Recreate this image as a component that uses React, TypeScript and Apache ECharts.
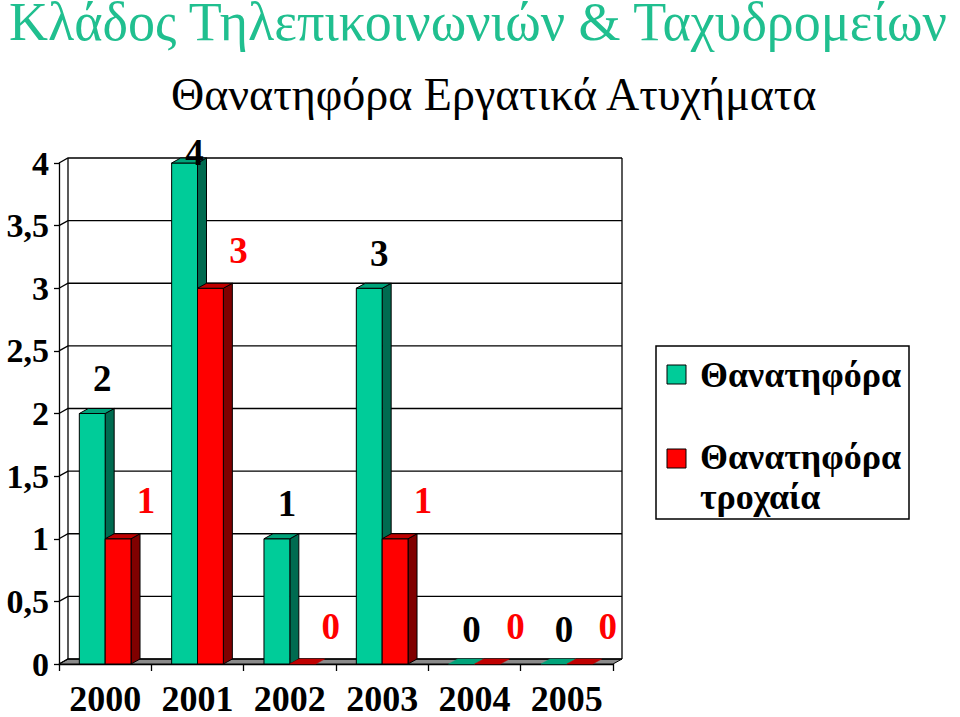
import React, { useEffect, useRef } from 'react';
import * as echarts from 'echarts';

const years = ['2000', '2001', '2002', '2003', '2004', '2005'];
const fatal = [2, 4, 1, 3, 0, 0];
const fatalRoad = [1, 3, 0, 1, 0, 0];
const seriesNames = ['Θανατηφόρα', 'Θανατηφόρα\nτροχαία'];
const yTicks = [0, 0.5, 1, 1.5, 2, 2.5, 3, 3.5, 4];
const mainTitle = 'Κλάδος Τηλεπικοινωνιών & Ταχυδρομείων';
const subTitle = 'Θανατηφόρα Εργατικά Ατυχήματα';

const FONT = 'Liberation Serif';
const DX = 9;
const DY = -5;

const GREEN = { front: '#00CC99', top: '#00A37A', side: '#006B50', label: '#000000' };
const RED = { front: '#FF0000', top: '#C00000', side: '#800000', label: '#FF0000' };

function makeBarRender(colors: any, isLeft: boolean, labelDx: number, labelDy: number) {
  return (params: any, api: any) => {
    const cs = params.coordSys;
    const idx = api.value(0);
    const val = api.value(1);
    const top = api.coord([idx, val]);
    const base = api.coord([idx, 0]);
    const catW = api.size([1, 0])[0];
    const w = catW * 0.28;
    const x0 = isLeft ? top[0] - w : top[0];
    const yT = top[1];
    const yB = base[1];
    const children: any[] = [];
    const stroke = { stroke: '#000', lineWidth: 1 };
    if (yB - yT > 0.5) {
      children.push({
        type: 'polygon',
        shape: { points: [[x0 + w, yT], [x0 + w + DX, yT + DY], [x0 + w + DX, yB + DY], [x0 + w, yB]] },
        style: { fill: colors.side, ...stroke },
      });
      children.push({
        type: 'rect',
        shape: { x: x0, y: yT, width: w, height: yB - yT },
        style: { fill: colors.front, ...stroke },
      });
      children.push({
        type: 'polygon',
        shape: { points: [[x0, yT], [x0 + w, yT], [x0 + w + DX, yT + DY], [x0 + DX, yT + DY]] },
        style: { fill: colors.top, ...stroke },
      });
    } else {
      children.push({
        type: 'polygon',
        shape: { points: [[x0, yT], [x0 + w, yT], [x0 + w + DX, yT + DY], [x0 + DX, yT + DY]] },
        style: { fill: colors.top, stroke: colors.top, lineWidth: 0.5 },
      });
    }
    const ly = Math.max(yT + labelDy, cs.y - 11);
    children.push({
      type: 'text',
      z2: 10,
      style: {
        text: String(val),
        x: x0 + w / 2 + labelDx,
        y: ly,
        align: 'center',
        verticalAlign: 'middle',
        fill: colors.label,
        fontSize: 37,
        fontWeight: 'bold',
        fontFamily: FONT,
      },
    });
    return { type: 'group', children };
  };
}

export default function App() {
  const ref = useRef<HTMLDivElement>(null);

  useEffect(() => {
    if (!ref.current) return;
    const chart = echarts.init(ref.current, null, { renderer: 'svg' });
    const maxTick = yTicks[yTicks.length - 1];

    const option: any = {
      animation: false,
      backgroundColor: '#ffffff',
      title: [
        {
          text: mainTitle,
          left: 4,
          top: -10,
          textStyle: { color: '#20BF8F', fontSize: 54, fontWeight: 'normal', fontFamily: FONT },
        },
        {
          text: subTitle,
          left: 166,
          top: 66,
          textStyle: { color: '#000', fontSize: 46, fontWeight: 'normal', fontFamily: FONT },
        },
      ],
      grid: { left: 59, top: 163, width: 554, height: 502, containLabel: false },
      xAxis: {
        type: 'category',
        data: years,
        axisLine: { show: true, lineStyle: { color: '#000', width: 1.3 } },
        axisTick: { show: true, length: 7, lineStyle: { color: '#000', width: 1.3 } },
        axisLabel: {
          color: '#000',
          fontSize: 36,
          fontWeight: 'bold',
          fontFamily: FONT,
          margin: 17,
          interval: 0,
        },
        splitLine: { show: false },
      },
      yAxis: {
        type: 'value',
        min: 0,
        max: maxTick,
        interval: 0.5,
        axisLine: { show: true, lineStyle: { color: '#000', width: 1.3 } },
        axisTick: { show: true, length: 5, lineStyle: { color: '#000', width: 1.3 } },
        axisLabel: {
          color: '#000',
          fontSize: 34,
          fontWeight: 'bold',
          fontFamily: FONT,
          margin: 10,
          formatter: (v: number) => String(v).replace('.', ','),
        },
        splitLine: { show: false },
      },
      series: [
        {
          type: 'custom',
          name: 'wall',
          silent: true,
          data: yTicks.map((v) => [0, v]),
          encode: { x: 0, y: 1 },
          renderItem: (params: any, api: any) => {
            const cs = params.coordSys;
            const v = api.value(1);
            const y = api.coord([0, v])[1];
            const y0 = api.coord([0, 0])[1];
            const x0 = cs.x;
            const x1 = cs.x + cs.width;
            const children: any[] = [];
            if (v === 0) {
              children.push({
                type: 'polygon',
                shape: { points: [[x0, y], [x1, y], [x1 + DX, y + DY], [x0 + DX, y + DY]] },
                style: { fill: '#8A8A8A', stroke: '#000', lineWidth: 1 },
              });
            }
            children.push({
              type: 'polyline',
              shape: { points: [[x0, y], [x0 + DX, y + DY], [x1 + DX, y + DY]] },
              style: { fill: 'none', stroke: '#000', lineWidth: 1.3 },
            });
            if (v === maxTick) {
              children.push({
                type: 'line',
                shape: { x1: x0 + DX, y1: y + DY, x2: x0 + DX, y2: y0 + DY },
                style: { stroke: '#000', lineWidth: 1.3 },
              });
              children.push({
                type: 'line',
                shape: { x1: x1 + DX, y1: y + DY, x2: x1 + DX, y2: y0 + DY },
                style: { stroke: '#000', lineWidth: 1.3 },
              });
            }
            return { type: 'group', children };
          },
        },
        {
          type: 'custom',
          name: seriesNames[0],
          itemStyle: { color: GREEN.front },
          data: fatal.map((v, i) => [i, v]),
          encode: { x: 0, y: 1 },
          renderItem: makeBarRender(GREEN, true, 10, -35),
        },
        {
          type: 'custom',
          name: seriesNames[1],
          itemStyle: { color: RED.front },
          data: fatalRoad.map((v, i) => [i, v]),
          encode: { x: 0, y: 1 },
          renderItem: makeBarRender(RED, false, 28, -38),
        },
      ],
      graphic: [
        {
          type: 'rect',
          shape: { x: 656, y: 346, width: 253, height: 173 },
          style: { fill: '#fff', stroke: '#000', lineWidth: 1.5 },
        },
        {
          type: 'rect',
          shape: { x: 667, y: 365, width: 19, height: 19 },
          style: { fill: GREEN.front, stroke: '#000', lineWidth: 1 },
        },
        {
          type: 'rect',
          shape: { x: 667, y: 449, width: 19, height: 19 },
          style: { fill: RED.front, stroke: '#000', lineWidth: 1 },
        },
        {
          type: 'text',
          style: {
            text: seriesNames[0],
            x: 700,
            y: 375,
            verticalAlign: 'middle',
            fill: '#000',
            fontSize: 36,
            fontWeight: 'bold',
            fontFamily: FONT,
          },
        },
        {
          type: 'text',
          style: {
            text: seriesNames[1],
            x: 700,
            y: 437,
            verticalAlign: 'top',
            lineHeight: 40,
            fill: '#000',
            fontSize: 36,
            fontWeight: 'bold',
            fontFamily: FONT,
          },
        },
      ],
    };

    chart.setOption(option);
    return () => chart.dispose();
  }, []);

  return (
    <div
      ref={ref}
      style={{ position: 'absolute', left: 0, top: 0, width: 960, height: 717 }}
    />
  );
}
